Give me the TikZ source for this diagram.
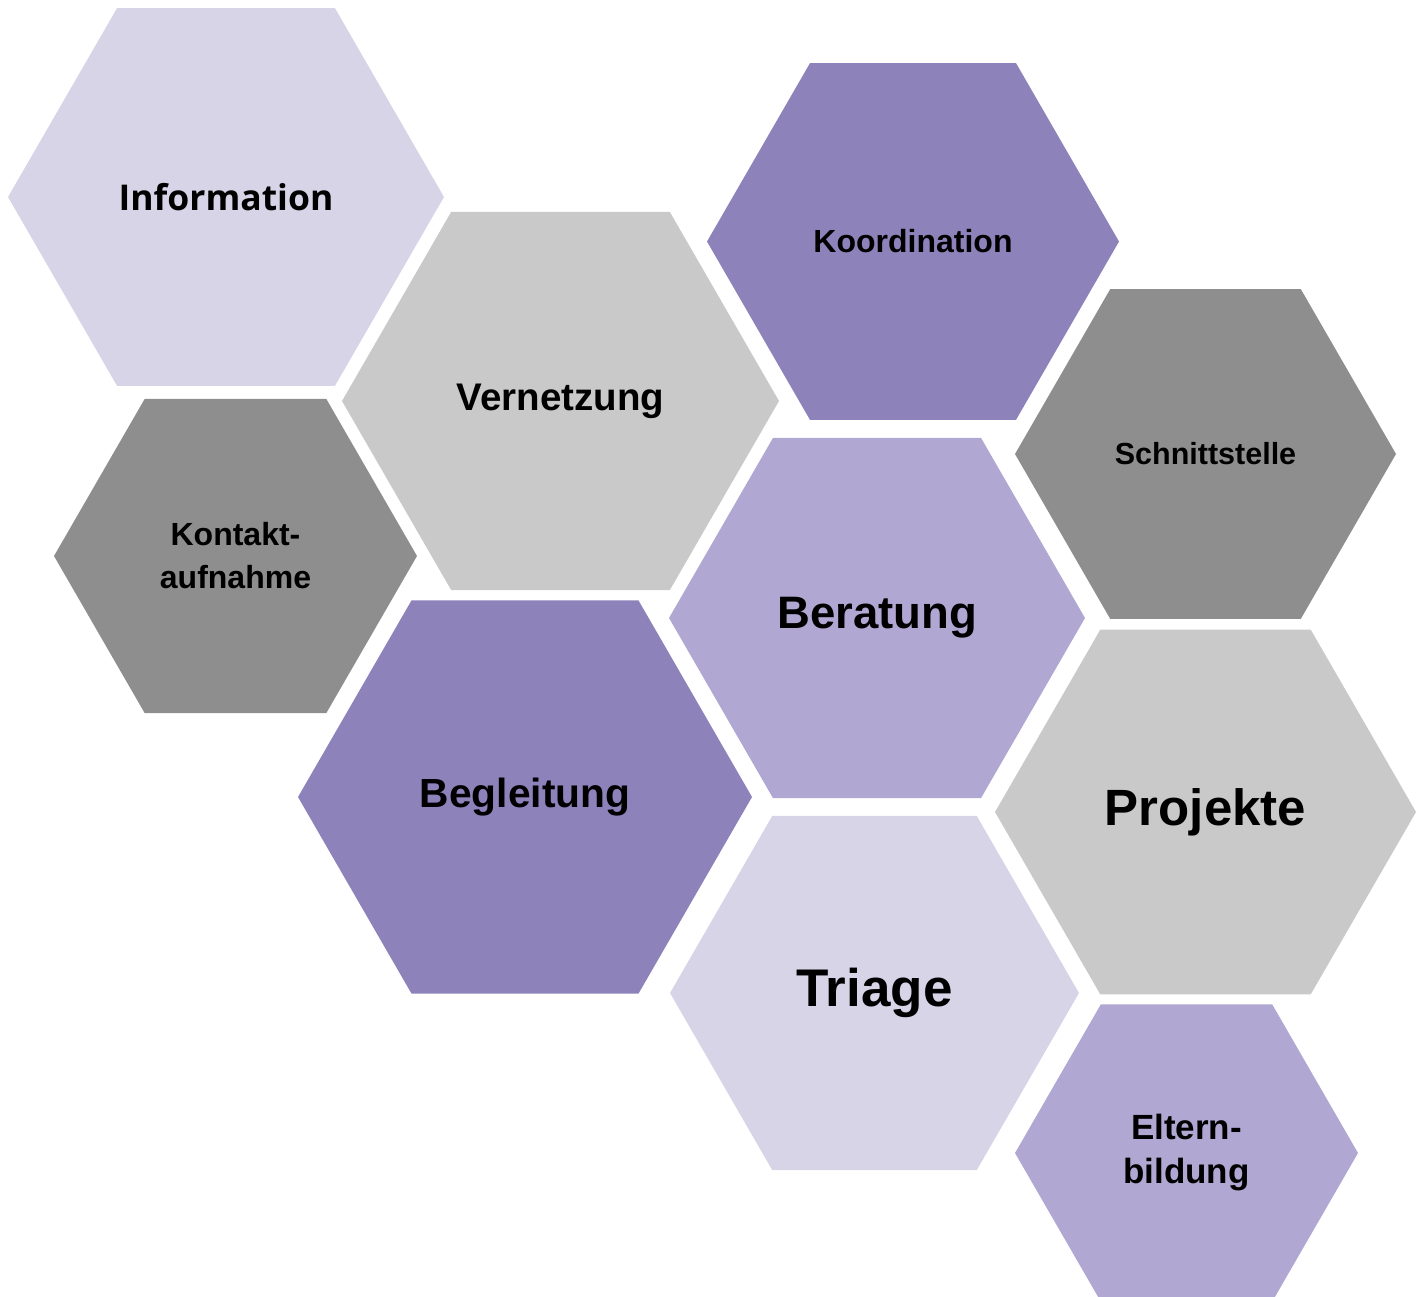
\documentclass[tikz,border=0pt]{standalone}
\usepackage{fontspec}
\setmainfont{Liberation Sans}
\newfontfamily\infofont{Open Sans}
\usetikzlibrary{shapes.geometric}

\definecolor{lavlight}{HTML}{D8D4E8}
\definecolor{lavmid}{HTML}{B0A8D2}
\definecolor{lavdark}{HTML}{8E82BB}
\definecolor{greylight}{HTML}{C9C9C9}
\definecolor{greydark}{HTML}{8E8E8E}

\begin{document}
\begin{tikzpicture}[x=1pt,y=-1pt]
                \tikzstyle{every node}+=[inner sep=0pt]
                \tikzstyle{hex}=[regular polygon, regular polygon sides=6, text=black, align=center]
                \useasboundingbox (0,0) rectangle (1423,1297);
                \node [hex, fill=lavlight, minimum size=436pt, font=\infofont\bfseries\fontsize{35.5}{42}\selectfont] (info) at (226,197) {Information};
                \node [hex, fill=greylight, minimum size=437pt, font=\bfseries\fontsize{38.5}{44}\selectfont] (vern) at (560.5,401) {Vernetzung};
                \node [hex, fill=lavdark, minimum size=412pt, font=\bfseries\fontsize{32}{38}\selectfont] (koord) at (913,241.5) {Koordination};
                \node [hex, fill=greydark, minimum size=381pt, font=\bfseries\fontsize{30.5}{36}\selectfont] (schnitt) at (1205.5,454) {Schnittstelle};
                \node [hex, fill=greydark, minimum size=363pt, font=\bfseries\fontsize{32}{43}\selectfont] (kontakt) at (235.5,556) {Kontakt-\\aufnahme};
                \node [hex, fill=lavmid, minimum size=416pt, font=\bfseries\fontsize{45.5}{50}\selectfont] (berat) at (877,618) {Beratung};
                \node [hex, fill=lavdark, minimum size=454pt, font=\bfseries\fontsize{40.7}{46}\selectfont] (begl) at (525,797) {Begleitung};
                \node [hex, fill=greylight, minimum size=421pt, font=\bfseries\fontsize{51}{56}\selectfont] (proj) at (1205.5,812) {Projekte};
                \node [hex, fill=lavlight, minimum size=409pt, font=\bfseries\fontsize{53}{58}\selectfont] (triage) at (874.5,993) {Triage};
                \node [hex, fill=lavmid, minimum size=343pt, font=\bfseries\fontsize{35}{44}\selectfont] (eltern) at (1186.5,1153) {Eltern-\\bildung};
\end{tikzpicture}
\end{document}
